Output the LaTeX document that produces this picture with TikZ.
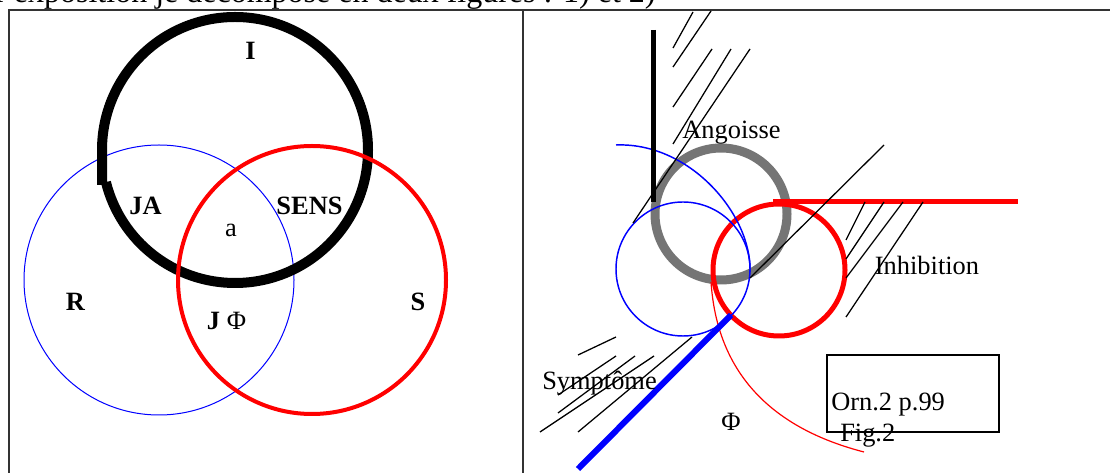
\documentclass[tikz,border=0pt]{standalone}
\usepackage{fontspec}
\setmainfont{Liberation Serif}
\usepackage{tikz}
\tikzset{
    cadre/.style   = {draw=black!80, line width=0.9pt},
    etiq/.style    = {inner sep=0pt, anchor=base, font=\fontsize{19.8}{23}\selectfont},
    etiqgras/.style= {etiq, font=\fontsize{19.8}{23}\selectfont\bfseries},
    hachure/.style = {line width=0.95pt},
    anneau/.style  = {line width=7.5pt},
    rouge/.style   = {draw=red, line width=3.75pt}
}

\begin{document}
\begin{tikzpicture}[x=0.75pt, y=-0.75pt,
        fin/.style   = {draw=blue, line width=1.1pt},
        fleche/.style= {draw=blue, line width=4.5pt}]

    \useasboundingbox (0,0) rectangle (1110,473);
    \clip (0,0) rectangle (1110,473);

    % Texte du haut, coupe
    \node[anchor=base west, inner sep=0pt, font=\fontsize{24}{28}\selectfont] (titre) at (-5,3)
        {r exposition je décompose en deux figures : 1) et 2)};

    % Cadres
    \draw[cadre] (9,480) -- (9,10) -- (1115,10);
    \draw[cadre] (523,10) -- (523,480);

    % Figure 1 : les trois ronds
    \draw[blue, line width=0.75pt] (159,280) circle[radius=135];
    \draw[anneau] (102,185) -- (102,150) arc[start angle=180, end angle=526, radius=133];
    \draw[red, line width=3pt] (312,280) circle[radius=134];

    \node[etiqgras] (lI)    at (250.5,60)  {I};
    \node[etiqgras] (lJA)   at (145.5,215) {JA};
    \node[etiqgras] (lSENS) at (309.5,215) {SENS};
    \node[etiq]     (la)    at (231,237)   {a};
    \node[etiqgras] (lR)    at (75.5,311)  {R};
    \node[etiqgras] (lS)    at (418,311)   {S};
    \node[etiq]     (lJPhi) at (226.5,330) {\textbf{J} Φ};

    % Figure 2
    \draw[black!54, line width=6.75pt] (721,214) circle[radius=66];
    \draw[rouge] (779,270) circle[radius=66];
    \draw[rouge] (773,202) -- (1018,202);
    \draw[red, line width=0.9pt] (711,282) .. controls (715,340) and (740,420) .. (864,452);
    \draw[fin] (683,269) circle[radius=67];
    \draw[fin] (616,145) .. controls (690,142) and (752,215) .. (750,272);
    \draw[line width=3.75pt] (653,30) -- (653,202);

    % Hachures
    \foreach \xa/\ya/\xb/\yb in {673/48/693/12, 673/67/711/11, 673/107/712/49,
                                 673/144/731/49, 633/223/750/49}
        \draw[hachure] (\xa,\ya) -- (\xb,\yb);
    \foreach \xa/\ya/\xb/\yb in {865/202/846/240, 884/202/846/259, 903/202/846/278,
                                 923/202/846/317, 884/145/750/278}
        \draw[hachure] (\xa,\ya) -- (\xb,\yb);
    \foreach \xa/\ya/\xb/\yb in {616/337/578/355, 616/356/558/395, 635/356/558/413,
                                 654/356/540/432, 692/337/578/432}
        \draw[hachure] (\xa,\ya) -- (\xb,\yb);

    \draw[fleche] (578,469) -- (731,315);

    \node[etiq] (angoisse)   at (731.5,139) {Angoisse};
    \node[etiq] (inhibition) at (927,275)   {Inhibition};
    \node[etiq] (symptome)   at (599.5,390) {Symptôme};
    \node[etiq] (phi)        at (731,431)   {Φ};

    % Reference
    \draw[line width=1.1pt] (827,355) rectangle (999,432);
    \node[etiq, anchor=base west] (orn) at (831,411) {Orn.2 p.99};
    \node[etiq, anchor=base west] (fig) at (840,442) {Fig.2};
\end{tikzpicture}
\end{document}
